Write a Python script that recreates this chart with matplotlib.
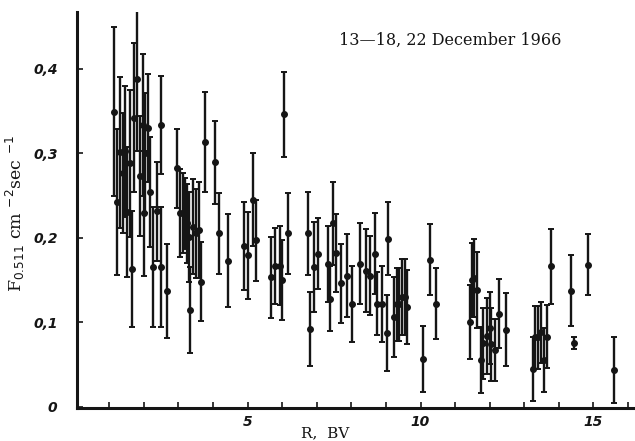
import matplotlib
matplotlib.use("Agg")
import matplotlib.pyplot as plt
from matplotlib.ticker import FixedLocator, NullFormatter

# Rigidity R (BV)
R = [1.14, 1.23, 1.30, 1.41, 1.47, 1.52, 1.60, 1.67, 1.71, 1.81, 1.89, 1.99, 2.02, 2.05, 2.13, 2.18, 2.28, 2.37, 2.49, 2.51, 2.68,
     2.97, 3.06, 3.14, 3.19, 3.26, 3.30, 3.35, 3.42, 3.50, 3.59, 3.66, 3.76, 4.06, 4.17, 4.44, 4.89,
     5.01, 5.15, 5.23, 5.67, 5.79, 5.93, 6.00, 6.05, 6.18, 6.75, 6.80, 6.92, 7.03,
     7.33, 7.38, 7.48, 7.57, 7.69, 7.88, 8.01, 8.25, 8.43, 8.54, 8.68, 8.75, 8.89, 9.02, 9.06, 9.23,
     9.31, 9.38, 9.47, 9.54, 9.60, 10.08, 10.27, 10.46,
     11.42, 11.49, 11.54, 11.64, 11.75, 11.81, 11.91, 12.00, 12.05, 12.15, 12.28, 12.48,
     13.26, 13.32, 13.39, 13.47, 13.56, 13.66, 13.78, 14.34, 14.43, 14.85, 15.59]

# Flux F_0.511 (cm^-2 sec^-1)
F = [0.349, 0.242, 0.301, 0.276, 0.302, 0.230, 0.288, 0.163, 0.342, 0.388, 0.273, 0.333, 0.229, 0.300, 0.330, 0.254, 0.165, 0.231, 0.165, 0.333, 0.137,
     0.282, 0.229, 0.229, 0.229, 0.217, 0.201, 0.114, 0.213, 0.205, 0.209, 0.148, 0.313, 0.289, 0.205, 0.173, 0.190,
     0.179, 0.245, 0.197, 0.153, 0.167, 0.167, 0.150, 0.346, 0.205, 0.205, 0.092, 0.165, 0.181,
     0.169, 0.128, 0.217, 0.182, 0.146, 0.155, 0.121, 0.169, 0.161, 0.155, 0.181, 0.122, 0.122, 0.087, 0.199, 0.106,
     0.121, 0.121, 0.130, 0.130, 0.118, 0.057, 0.174, 0.122,
     0.100, 0.150, 0.152, 0.138, 0.055, 0.075, 0.084, 0.093, 0.074, 0.067, 0.110, 0.091,
     0.045, 0.082, 0.082, 0.088, 0.055, 0.083, 0.166, 0.137, 0.075, 0.168, 0.044]

# Errors
dF = [0.100, 0.086, 0.089, 0.071, 0.077, 0.077, 0.087, 0.069, 0.088, 0.085, 0.071, 0.084, 0.074, 0.071, 0.064, 0.065, 0.071, 0.059, 0.071, 0.058, 0.056,
      0.047, 0.052, 0.047, 0.042, 0.047, 0.053, 0.051, 0.056, 0.053, 0.057, 0.047, 0.059, 0.049, 0.048, 0.055, 0.052,
      0.051, 0.055, 0.048, 0.048, 0.045, 0.047, 0.047, 0.050, 0.048, 0.049, 0.044, 0.053, 0.042,
      0.045, 0.038, 0.049, 0.046, 0.047, 0.049, 0.045, 0.048, 0.049, 0.047, 0.048, 0.037, 0.045, 0.045, 0.043, 0.047,
      0.043, 0.043, 0.045, 0.045, 0.044, 0.039, 0.042, 0.042,
      0.044, 0.044, 0.046, 0.045, 0.039, 0.042, 0.045, 0.043, 0.043, 0.037, 0.041, 0.043,
      0.038, 0.037, 0.037, 0.036, 0.038, 0.037, 0.044, 0.042, 0.007, 0.036, 0.039]

yticks = [0, 0.1, 0.2, 0.3, 0.4]
ytick_labels = ["0", "0,1", "0,2", "0,3", "0,4"]
xticks_major = [5, 10, 15]
xtick_labels = ["5", "10", "15"]
xticks_minor = [1, 2, 3, 4, 6, 7, 8, 9, 11, 12, 13, 14, 16]

fig = plt.figure(figsize=(6.35, 4.41), dpi=100)
ax = fig.add_axes([77/635, 1 - 408/441, 1 - 77/635, (408 - 12)/441])

ink = "#151515"
ax.errorbar(R, F, yerr=dF, fmt="o", color=ink, ecolor=ink, markersize=4,
            elinewidth=1.7, capsize=2.2, capthick=1.4)

ax.set_xlim(0.07, 16.2)
ax.set_ylim(-0.0015, 0.467)

for s in ["top", "right"]:
    ax.spines[s].set_visible(False)
for s in ["left", "bottom"]:
    ax.spines[s].set_linewidth(2.2)
    ax.spines[s].set_color(ink)

ax.xaxis.set_major_locator(FixedLocator(xticks_major))
ax.set_xticklabels(xtick_labels)
ax.xaxis.set_minor_locator(FixedLocator(xticks_minor))
ax.xaxis.set_minor_formatter(NullFormatter())
ax.set_yticks(yticks)
ax.set_yticklabels(ytick_labels)

ax.tick_params(axis="both", which="both", direction="in", length=4, width=1.2, color=ink)
ax.tick_params(axis="x", pad=5)
ax.tick_params(axis="y", pad=14)
for lab in ax.get_xticklabels() + ax.get_yticklabels():
    lab.set_fontstyle("italic")
    lab.set_fontweight("bold")
    lab.set_fontsize(10)
    lab.set_color(ink)

ax.set_xlabel("R,  BV", family="DejaVu Serif", fontsize=11, color=ink, labelpad=0)
ax.xaxis.set_label_coords((325 - 77) / 558, -0.045)
ax.set_ylabel(r"F$_{0.511}$ cm $^{-2}$sec $^{-1}$", family="DejaVu Serif", fontsize=12.5, color=ink)
ax.yaxis.set_label_coords(-(77 - 27) / 558, 0.49)

ax.text((450 - 77) / 558, (408 - 40) / 396, "13\u201418, 22 December 1966",
        transform=ax.transAxes, ha="center", va="center",
        family="DejaVu Serif", fontsize=11.5, color=ink)

fig.savefig("out.png", dpi=100)
